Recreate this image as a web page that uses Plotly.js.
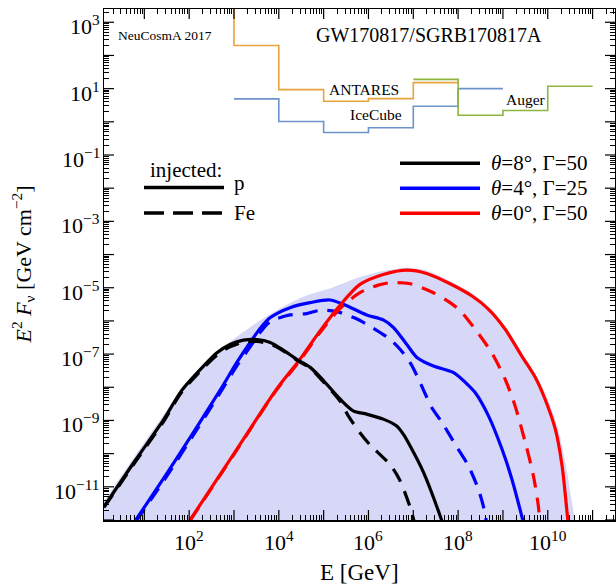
<!DOCTYPE html>
<html>
<head>
<meta charset="utf-8">
<script src="https://cdn.plot.ly/plotly-3.0.1.min.js"></script>
<style>html,body{margin:0;padding:0;background:#fff;}#plot{width:616px;height:585px;}</style>
</head>
<body>
<div id="plot"></div>
<script>
// ---- Data (log10 E [GeV], log10 E^2 F [GeV cm^-2]) ----
const th8_p_logE  = [0.1, 0.8, 1.42, 1.83, 2.32, 2.62, 2.91, 3.21, 3.51, 3.81, 4.1, 4.4, 4.7, 4.97, 5.37, 5.66, 5.96, 6.33, 6.63, 6.78, 6.93, 7.23, 7.6, 7.7];
const th8_p_logF  = [-11.6, -10.2, -9.0, -8.1, -7.36, -6.96, -6.71, -6.58, -6.56, -6.65, -6.88, -7.16, -7.4, -7.76, -8.36, -8.71, -8.81, -8.96, -9.17, -9.42, -9.77, -10.57, -11.88, -12.3];
const th8_fe_logE = [0.1, 0.8, 1.42, 1.83, 2.32, 2.62, 2.91, 3.21, 3.51, 3.81, 4.1, 4.4, 4.7, 4.97, 5.37, 5.55, 5.81, 6.05, 6.3, 6.5, 6.7, 6.93, 7.05];
const th8_fe_logF = [-11.62, -10.25, -9.05, -8.15, -7.42, -7.03, -6.78, -6.64, -6.62, -6.7, -6.9, -7.18, -7.42, -7.8, -8.42, -8.86, -9.37, -9.76, -10.08, -10.36, -10.8, -11.62, -12.2];

const th4_p_logE  = [0.81, 1.5, 2.17, 2.73, 3.06, 3.36, 3.6, 3.81, 4.25, 4.7, 5.14, 5.44, 5.96, 6.33, 6.56, 6.86, 7.08, 7.45, 7.9, 8.16, 8.38, 8.68, 8.98, 9.2, 9.42, 9.48];
const th4_p_logF  = [-12.0, -10.6, -9.2, -8.0, -7.26, -6.65, -6.2, -5.9, -5.6, -5.45, -5.37, -5.5, -5.82, -5.97, -6.2, -6.72, -7.1, -7.36, -7.56, -7.85, -8.16, -8.87, -9.87, -10.77, -11.88, -12.2];
const th4_fe_logE = [0.81, 1.5, 2.17, 2.73, 3.06, 3.36, 3.6, 3.81, 4.25, 4.62, 4.92, 5.29, 5.67, 5.96, 6.26, 6.48, 6.71, 6.93, 7.12, 7.27, 7.41, 7.64, 7.97, 8.23, 8.45, 8.57, 8.65];
const th4_fe_logF = [-12.05, -10.68, -9.28, -8.08, -7.36, -6.78, -6.32, -6.02, -5.82, -5.78, -5.68, -5.72, -5.9, -6.1, -6.35, -6.55, -6.86, -7.26, -7.76, -8.21, -8.61, -9.06, -9.8, -10.37, -11.07, -11.62, -12.2];

const th0_p_logE  = [2.02, 3.0, 3.95, 4.47, 4.92, 5.37, 5.81, 6.33, 6.86, 7.3, 7.82, 8.31, 8.68, 9.05, 9.42, 9.72, 9.94, 10.17, 10.32, 10.43, 10.47];
const th0_p_logF  = [-12.0, -10.0, -8.06, -7.16, -6.3, -5.52, -4.9, -4.6, -4.47, -4.57, -4.88, -5.25, -5.65, -6.25, -7.06, -7.7, -8.36, -9.27, -10.37, -11.77, -12.3];
const th0_fe_logE = [2.02, 3.0, 3.95, 4.47, 4.92, 5.37, 5.81, 6.2, 6.48, 6.93, 7.45, 7.82, 8.05, 8.38, 8.75, 9.05, 9.27, 9.5, 9.68, 9.79, 9.83];
const th0_fe_logF = [-12.02, -10.02, -8.08, -7.2, -6.35, -5.62, -5.15, -4.93, -4.85, -4.88, -5.15, -5.45, -5.7, -6.25, -6.96, -7.76, -8.56, -9.67, -10.67, -11.58, -12.2];

// envelope of the shaded band (upper edge)
const band_logE = [0.0, 0.1, 0.8, 1.42, 1.87, 2.24, 2.6, 2.99, 3.4, 3.8, 4.2, 4.47, 4.7, 5.2, 5.6, 5.96, 6.3, 6.86, 7.3, 7.82, 8.31, 8.68, 9.05, 9.42, 9.72, 9.98, 10.22, 10.4, 10.52, 10.6, 10.63, 10.63, 0.0];
const band_logF = [-11.7, -11.45, -10.05, -8.85, -8.0, -7.42, -6.98, -6.55, -6.15, -5.8, -5.5, -5.32, -5.2, -4.99, -4.78, -4.62, -4.5, -4.4, -4.48, -4.8, -5.17, -5.57, -6.17, -6.97, -7.6, -8.3, -9.2, -10.3, -11.3, -12.0, -12.6, -13.0, -13.0];

// upper limits (bin edges in log10 E, values in log10 E^2 F)
const antares_edges = [2, 3, 4, 5, 6, 7, 8];
const antares_vals  = [3.9, 2.3, 0.97, 0.62, 0.70, 1.18];
const icecube_edges = [3, 4, 5, 6, 7, 8, 9];
const icecube_vals  = [0.69, 0.01, -0.32, -0.18, 0.47, 1.0];
const auger_edges   = [7, 8, 9, 10, 11];
const auger_vals    = [1.28, 0.2, 0.34, 1.07];

// tick decades and labelled decades
const xTickExp  = [0,1,2,3,4,5,6,7,8,9,10,11];
const yTickExp  = [-12,-11,-10,-9,-8,-7,-6,-5,-4,-3,-2,-1,0,1,2,3];
const xLabelExp = [2, 4, 6, 8, 10];
const yLabelExp = [3, 1, -1, -3, -5, -7, -9, -11];

// ---- helpers ----
const p10 = a => a.map(v => Math.pow(10, v));
const FONT = 'Liberation Serif, Times New Roman, serif';
const sup = n => '10<sup>' + (n < 0 ? '\u2212' + (-n) : n) + '</sup>';
const XR = [0.1, 11.5], YR = [-12, 3.4];

function curve(lx, ly, color, dash) {
  return {x: p10(lx), y: p10(ly), type: 'scatter', mode: 'lines', showlegend: false, hoverinfo: 'skip',
    line: {color: color, width: 3.2, dash: dash || 'solid', shape: 'spline', smoothing: 0.8}};
}
function steps(edges, vals, color) {
  const y = vals.concat([vals[vals.length - 1]]);
  return {x: p10(edges), y: p10(y), type: 'scatter', mode: 'lines', showlegend: false, hoverinfo: 'skip',
    line: {color: color, width: 1.6, shape: 'hv'}};
}

const DASH = '15px,10px';
const traces = [
  {x: p10(band_logE), y: p10(band_logF), type: 'scatter', mode: 'lines', fill: 'toself',
   fillcolor: '#d7d7f8', line: {width: 0, shape: 'spline', smoothing: 0.6}, showlegend: false, hoverinfo: 'skip'},
  steps(antares_edges, antares_vals, '#e9a43c'),
  steps(icecube_edges, icecube_vals, '#6e92cc'),
  steps(auger_edges, auger_vals, '#8db53f'),
  curve(th4_fe_logE, th4_fe_logF, '#0000ff', DASH),
  curve(th4_p_logE, th4_p_logF, '#0000ff'),
  curve(th0_fe_logE, th0_fe_logF, '#ff0000', DASH),
  curve(th0_p_logE, th0_p_logF, '#ff0000'),
  curve(th8_fe_logE, th8_fe_logF, '#000000', DASH),
  curve(th8_p_logE, th8_p_logF, '#000000')
];

// short ticks at 2..9 x 10^n (axis ticks, no labels)
function subTicks(exps) {
  const vals = [];
  exps.forEach(n => { for (let k = 2; k <= 9; k++) vals.push(k * Math.pow(10, n)); });
  return vals;
}

const axisCommon = {
  type: 'log', showgrid: false, zeroline: false, showline: true, linecolor: '#000', linewidth: 1.5,
  mirror: 'ticks', ticks: 'inside', ticklen: 5, tickwidth: 1, tickcolor: '#000',
  showticklabels: false, tickmode: 'array'
};

// longer decade ticks on all four sides
const L = 10 / 511;
const majorTickShapes = [];
xTickExp.forEach(n => {
  const v = Math.pow(10, n);
  majorTickShapes.push({type: 'line', xref: 'x', yref: 'paper', x0: v, x1: v, y0: 0, y1: L, line: {color: '#000', width: 1.2}, layer: 'above'});
  majorTickShapes.push({type: 'line', xref: 'x', yref: 'paper', x0: v, x1: v, y0: 1, y1: 1 - L, line: {color: '#000', width: 1.2}, layer: 'above'});
});
yTickExp.forEach(n => {
  const v = Math.pow(10, n);
  majorTickShapes.push({type: 'line', xref: 'paper', yref: 'y', x0: 0, x1: L, y0: v, y1: v, line: {color: '#000', width: 1.2}, layer: 'above'});
  majorTickShapes.push({type: 'line', xref: 'paper', yref: 'y', x0: 1, x1: 1 - L, y0: v, y1: v, line: {color: '#000', width: 1.2}, layer: 'above'});
});

// tick labels (annotation x/y on log axes are given as log10 values)
const tickLabels = [];
xLabelExp.forEach(n => tickLabels.push({text: sup(n), xref: 'x', x: n, yref: 'paper', y: 0, xanchor: 'center', yanchor: 'top', yshift: -5,
  showarrow: false, font: {family: FONT, size: 22, color: '#000'}}));
yLabelExp.forEach(n => tickLabels.push({text: sup(n), xref: 'paper', x: 0, yref: 'y', y: n, xanchor: 'right', yanchor: 'middle', xshift: -2, yshift: -3,
  showarrow: false, font: {family: FONT, size: 22, color: '#000'}}));

const layout = {
  width: 616, height: 585,
  margin: {l: 104, r: 1, t: 9, b: 65},
  paper_bgcolor: '#fff', plot_bgcolor: '#fff',
  showlegend: false,
  xaxis: Object.assign({}, axisCommon, {range: XR, tickvals: subTicks(xTickExp)}),
  yaxis: Object.assign({}, axisCommon, {range: YR, tickvals: subTicks(yTickExp)}),
  shapes: majorTickShapes.concat([
    {type: 'line', xref: 'paper', yref: 'paper', x0: 0.0783, x1: 0.2348, y0: 0.6507, y1: 0.6507, line: {color: '#000', width: 3.6}},
    {type: 'line', xref: 'paper', yref: 'paper', x0: 0.0783, x1: 0.2348, y0: 0.6008, y1: 0.6008, line: {color: '#000', width: 3.6, dash: '20px,9px'}},
    {type: 'line', xref: 'paper', yref: 'paper', x0: 0.5793, x1: 0.7358, y0: 0.698, y1: 0.698, line: {color: '#000', width: 3.6}},
    {type: 'line', xref: 'paper', yref: 'paper', x0: 0.5793, x1: 0.7358, y0: 0.6491, y1: 0.6491, line: {color: '#0000ff', width: 3.6}},
    {type: 'line', xref: 'paper', yref: 'paper', x0: 0.5793, x1: 0.7358, y0: 0.6002, y1: 0.6002, line: {color: '#ff0000', width: 3.6}}
  ]),
  annotations: tickLabels.concat([
    {text: 'NeuCosmA 2017', x: 0.1184, y: 0.949, xref: 'paper', yref: 'paper', showarrow: false, xanchor: 'center', yanchor: 'middle', font: {family: FONT, size: 13.5, color: '#000'}},
    {text: 'GW170817/SGRB170817A', x: 0.636, y: 0.949, xref: 'paper', yref: 'paper', showarrow: false, xanchor: 'center', yanchor: 'middle', font: {family: FONT, size: 20, color: '#000'}},
    {text: 'ANTARES', x: 0.5088, y: 0.8434, xref: 'paper', yref: 'paper', showarrow: false, xanchor: 'center', yanchor: 'middle', font: {family: FONT, size: 15.5, color: '#000'}},
    {text: 'IceCube', x: 0.5323, y: 0.7945, xref: 'paper', yref: 'paper', showarrow: false, xanchor: 'center', yanchor: 'middle', font: {family: FONT, size: 15.5, color: '#000'}},
    {text: 'Auger', x: 0.8252, y: 0.822, xref: 'paper', yref: 'paper', showarrow: false, xanchor: 'center', yanchor: 'middle', font: {family: FONT, size: 15.5, color: '#000'}},
    {text: 'injected:', x: 0.1605, y: 0.685, xref: 'paper', yref: 'paper', showarrow: false, xanchor: 'center', yanchor: 'middle', font: {family: FONT, size: 21, color: '#000'}},
    {text: 'p', x: 0.2505, y: 0.6595, xref: 'paper', yref: 'paper', showarrow: false, xanchor: 'left', yanchor: 'middle', font: {family: FONT, size: 21, color: '#000'}},
    {text: 'Fe', x: 0.2505, y: 0.6008, xref: 'paper', yref: 'paper', showarrow: false, xanchor: 'left', yanchor: 'middle', font: {family: FONT, size: 21, color: '#000'}},
    {text: '<i>θ</i>=8°, Γ=50', x: 0.7534, y: 0.698, xref: 'paper', yref: 'paper', showarrow: false, xanchor: 'left', yanchor: 'middle', font: {family: FONT, size: 21, color: '#000'}},
    {text: '<i>θ</i>=4°, Γ=25', x: 0.7534, y: 0.6491, xref: 'paper', yref: 'paper', showarrow: false, xanchor: 'left', yanchor: 'middle', font: {family: FONT, size: 21, color: '#000'}},
    {text: '<i>θ</i>=0°, Γ=50', x: 0.7534, y: 0.6002, xref: 'paper', yref: 'paper', showarrow: false, xanchor: 'left', yanchor: 'middle', font: {family: FONT, size: 21, color: '#000'}},
    {text: 'E [GeV]', x: 0.5, y: -0.1018, xref: 'paper', yref: 'paper', showarrow: false, xanchor: 'center', yanchor: 'middle', font: {family: FONT, size: 23, color: '#000'}},
    {text: '<i>E</i><sup>2</sup> <i>F</i><sub>ν</sub> [GeV cm<sup>\u22122</sup>]', x: -0.1585, y: 0.5, xref: 'paper', yref: 'paper', showarrow: false, textangle: -90, xanchor: 'center', yanchor: 'middle', font: {family: FONT, size: 22, color: '#000'}}
  ])
};

Plotly.newPlot('plot', traces, layout, {displayModeBar: false, staticPlot: true});
</script>
</body>
</html>
